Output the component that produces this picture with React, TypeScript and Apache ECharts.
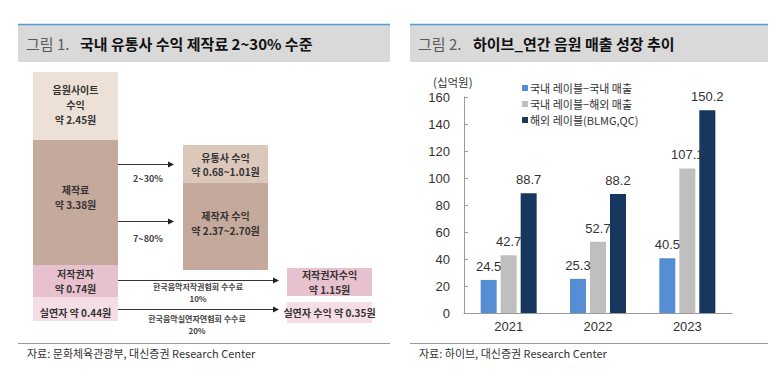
import React, { useEffect, useRef } from "react";
import * as echarts from "echarts";

// ---- Figure 2 data (bar chart) ----
const years = ["2021", "2022", "2023"];
const seriesNames = ["국내 레이블−국내 매출", "국내 레이블−해외 매출", "해외 레이블(BLMG,QC)"];
const domesticDomestic = [24.5, 25.3, 40.5];
const domesticOverseas = [42.7, 52.7, 107.1];
const overseasLabels = [88.7, 88.2, 150.2];
const unitLabel = "(십억원)";

// ---- Figure 1 data (flow diagram) ----
const sourceItems = ["음원사이트\n수익\n약 2.45원", "제작료\n약 3.38원", "저작권자\n약 0.74원", "실연자 약 0.44원"];
const recipientItems = ["유통사 수익\n약 0.68~1.01원", "제작자 수익\n약 2.37~2.70원", "저작권자수익\n약 1.15원", "실연자 수익 약 0.35원"];
const flowLabels = ["2~30%", "7~80%", "한국음악저작권협회 수수료\n10%", "한국음악실연자연협회 수수료\n20%"];

const titles = [
  { prefix: "그림 1.", text: "국내 유통사 수익 제작료 2~30% 수준" },
  { prefix: "그림 2.", text: "하이브_연간 음원 매출 성장 추이" },
];
const sources = ["자료: 문화체육관광부, 대신증권 Research Center", "자료: 하이브, 대신증권 Research Center"];

const KR = "'Noto Sans CJK KR', 'Noto Sans', sans-serif";
const NUM = "'Liberation Sans', Arial, sans-serif";

export default function App() {
  const ref = useRef<HTMLDivElement>(null);
  useEffect(() => {
    document.body.style.margin = "0";
    const chart = echarts.init(ref.current!, null, { renderer: "svg" });

    const g: any[] = [];
    // headers
    const headers = [
      { x: 18, w: 372, tx: 26, bx: 80 },
      { x: 410, w: 358, tx: 418, bx: 473 },
    ];
    headers.forEach((h, i) => {
      g.push({ type: "rect", shape: { x: h.x, y: 24, width: h.w, height: 38 }, style: { fill: "#D9D9D9" } });
      g.push({ type: "line", shape: { x1: h.x, y1: 24.5, x2: h.x + h.w, y2: 24.5 }, style: { stroke: "#5B9BD5", lineWidth: 1.5 } });
      g.push({ type: "text", x: h.tx, y: 43, style: { text: titles[i].prefix, font: `15px ${KR}`, fill: "#595959", verticalAlign: "middle" } });
      g.push({ type: "text", x: h.bx, y: 43, style: { text: titles[i].text, font: `bold 15px ${KR}`, fill: "#111", verticalAlign: "middle" } });
    });
    // footers
    const footers = [
      { x: 18, w: 372, tx: 27 },
      { x: 410, w: 358, tx: 419 },
    ];
    footers.forEach((f, i) => {
      g.push({ type: "line", shape: { x1: f.x, y1: 343.5, x2: f.x + f.w, y2: 343.5 }, style: { stroke: "#999", lineWidth: 1 } });
      g.push({ type: "text", x: f.tx, y: 353, style: { text: sources[i], font: `11px ${KR}`, fill: "#333", verticalAlign: "middle" } });
    });

    // diagram boxes
    const srcBoxes = [
      { y: 72, h: 68, fill: "#EDE0D6", lh: 14.6 },
      { y: 140, h: 125, fill: "#C4A99C", lh: 15 },
      { y: 265, h: 32, fill: "#E8C1CE", lh: 14.6 },
      { y: 297, h: 24, fill: "#F5DDE5", lh: 14.6 },
    ];
    const srcTextCenter = [104.5, 197, 281, 312];
    srcBoxes.forEach((b, i) => {
      g.push({ type: "rect", shape: { x: 33, y: b.y, width: 85, height: b.h }, style: { fill: b.fill } });
      g.push({ type: "text", x: 75.5, y: srcTextCenter[i], style: { text: sourceItems[i], font: `bold 10px ${KR}`, fill: "#333", align: "center", verticalAlign: "middle", lineHeight: b.lh } });
    });
    const dstBoxes = [
      { x: 183, y: 145, h: 38, fill: "#DCC7BB", lh: 14.6, c: 164.5 },
      { x: 183, y: 183, h: 87, fill: "#C4A99C", lh: 14.6, c: 223 },
      { x: 287, y: 268, h: 28, fill: "#E8C1CE", lh: 14.6, c: 282 },
      { x: 287, y: 302, h: 21, fill: "#F5DDE5", lh: 14.6, c: 312.5 },
    ];
    dstBoxes.forEach((b, i) => {
      g.push({ type: "rect", shape: { x: b.x, y: b.y, width: 85, height: b.h }, style: { fill: b.fill } });
      g.push({ type: "text", x: b.x + 42.5, y: b.c, style: { text: recipientItems[i], font: `bold 10px ${KR}`, fill: "#333", align: "center", verticalAlign: "middle", lineHeight: b.lh } });
    });
    // arrows
    const arrows = [
      { y: 164, x2: 174, lx: 148, ly: 178, fs: 9 },
      { y: 221, x2: 174, lx: 148, ly: 238, fs: 9 },
      { y: 280, x2: 279, lx: 198, ly: 292, fs: 8 },
      { y: 309, x2: 279, lx: 197, ly: 324.5, fs: 8 },
    ];
    arrows.forEach((a, i) => {
      g.push({ type: "line", shape: { x1: 118, y1: a.y + 0.5, x2: a.x2 - 4, y2: a.y + 0.5 }, style: { stroke: "#333", lineWidth: 1 } });
      g.push({ type: "polygon", shape: { points: [[a.x2 - 6, a.y - 2.5], [a.x2, a.y + 0.5], [a.x2 - 6, a.y + 3.5]] }, style: { fill: "#222" } });
      g.push({ type: "text", x: a.lx, y: a.ly, style: { text: flowLabels[i], font: `bold ${a.fs}px ${KR}`, fill: "#444", align: "center", verticalAlign: "middle", lineHeight: 12 } });
    });
    // unit label
    g.push({ type: "text", x: 433, y: 81.5, style: { text: unitLabel, font: `11.5px ${KR}`, fill: "#333", verticalAlign: "middle" } });

    const label = {
      show: true,
      position: "top",
      distance: 7,
      fontFamily: NUM,
      fontSize: 13,
      color: "#333",
    };
    const colors = ["#558ED5", "#BFBFBF", "#17375E"];
    const values = [domesticDomestic, domesticOverseas, overseasLabels];

    chart.setOption({
      animation: false,
      color: colors,
      grid: { left: 464, right: 47, top: 97, bottom: 63, containLabel: false },
      legend: {
        orient: "vertical",
        left: 517,
        top: 76,
        itemWidth: 6,
        itemHeight: 6,
        itemGap: 2,
        icon: "rect",
        data: seriesNames,
        textStyle: { fontFamily: KR, fontSize: 11, color: "#333", padding: [0, 0, 0, -3], lineHeight: 14 },
      },
      xAxis: {
        type: "category",
        data: years,
        axisLine: { lineStyle: { color: "#999" } },
        axisTick: { inside: true, length: 4, lineStyle: { color: "#999" } },
        axisLabel: { fontFamily: NUM, fontSize: 13, color: "#333", margin: 7 },
      },
      yAxis: {
        type: "value",
        min: 0,
        max: 160,
        interval: 20,
        axisLine: { show: true, lineStyle: { color: "#999" } },
        axisTick: { show: true, inside: true, length: 4, lineStyle: { color: "#999" } },
        splitLine: { show: false },
        axisLabel: { fontFamily: NUM, fontSize: 13, color: "#333", margin: 14 },
      },
      series: seriesNames.map((n, i) => ({
        name: n,
        type: "bar",
        data: values[i],
        barWidth: 16,
        barGap: "25%",
        label,
      })),
      graphic: { elements: g },
    });
    return () => chart.dispose();
  }, []);
  return <div ref={ref} style={{ width: 779, height: 376 }} />;
}
